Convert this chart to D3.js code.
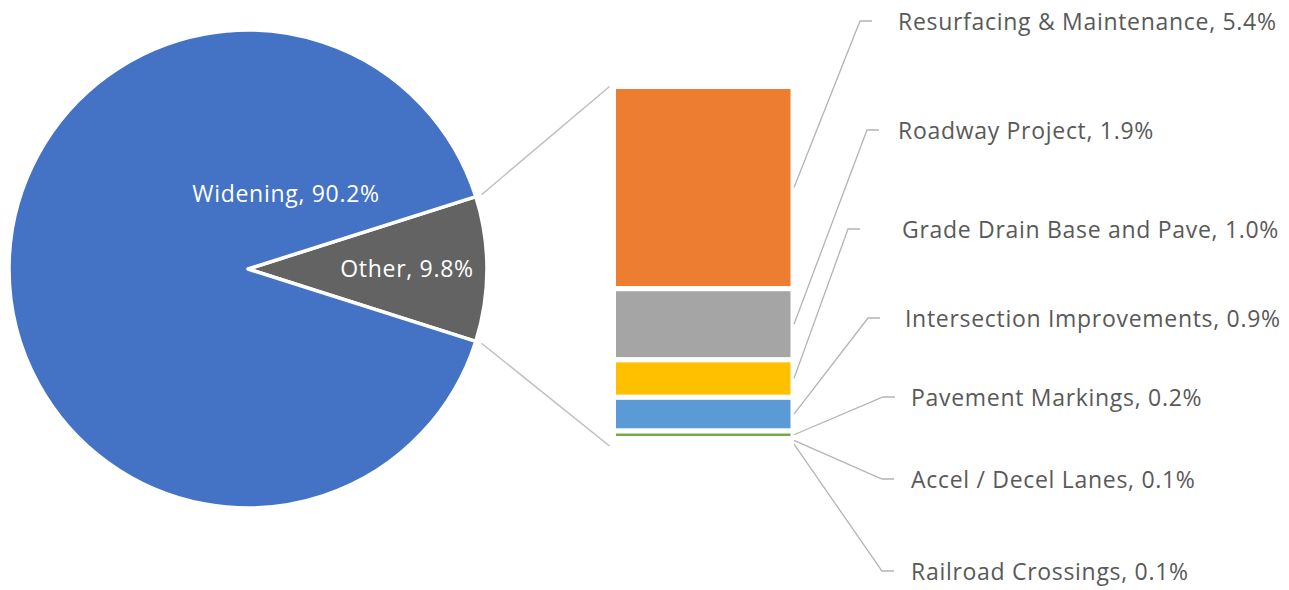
<!DOCTYPE html>
<html>
<head>
<meta charset="utf-8">
<script src="https://cdn.jsdelivr.net/npm/d3@7"></script>
<style>
  body { margin: 0; background: #fff; }
  text { font-family: "Open Sans", "Noto Sans", sans-serif; letter-spacing: 0.7px; }
</style>
</head>
<body>
<svg id="chart" width="1289" height="590"></svg>
<script>
// pie data
var pieNames = ["Other", "Widening"];
var pieValues = [9.8, 90.2];
var pieColors = ["#636363", "#4472C4"];

// breakdown of "Other"
var barNames = ["Resurfacing & Maintenance", "Roadway Project", "Grade Drain Base and Pave",
  "Intersection Improvements", "Pavement Markings", "Accel / Decel Lanes", "Railroad Crossings"];
var barValues = [5.4, 1.9, 1.0, 0.9, 0.2, 0.1, 0.1];
var barColors = ["#ED7D31", "#A5A5A5", "#FFC000", "#5B9BD5", "#70AD47", "#264478", "#9E480E"];

var fmt = function (v) { return v.toFixed(1) + "%"; };

var svg = d3.select("#chart");
var cx = 248, cy = 269, r = 239;

// label layout (elbow point and text start for each bar label)
var labelLayout = [
  {ex: 860, ey: 21, tx: 898},
  {ex: 867, ey: 130, tx: 898},
  {ex: 848, ey: 229, tx: 902},
  {ex: 868, ey: 318, tx: 905},
  {ex: 883, ey: 397, tx: 911},
  {ex: 882, ey: 479, tx: 911},
  {ex: 882, ey: 571, tx: 911}
];

// ---- pie ----
var half = pieValues[0] / 100 * Math.PI;
var pie = d3.pie().sort(null)
  .startAngle(Math.PI / 2 - half)
  .endAngle(Math.PI / 2 - half + 2 * Math.PI);
var arcs = pie(pieValues);
var arc = d3.arc().innerRadius(0).outerRadius(r);

var g = svg.append("g").attr("transform", "translate(" + cx + "," + cy + ")");
g.selectAll("path").data(arcs).enter().append("path")
  .attr("d", arc)
  .attr("fill", function (d, i) { return pieColors[i]; })
  .attr("stroke", "#fff")
  .attr("stroke-width", 3.5)
  .attr("stroke-linejoin", "round");

// pie labels
var pieLabelPos = [[159, 0], [38, -75]];
g.selectAll("text.pl").data(arcs).enter().append("text")
  .attr("class", "pl")
  .attr("x", function (d, i) { return pieLabelPos[i][0]; })
  .attr("y", function (d, i) { return pieLabelPos[i][1]; })
  .attr("dy", "0.35em")
  .attr("text-anchor", "middle")
  .attr("fill", "#fff")
  .style("font-size", "23px")
  .text(function (d, i) { return pieNames[i] + ", " + fmt(pieValues[i]); });

// ---- bar of pie ----
var barX = 613.5, barW = 179.5;
var total = d3.sum(barValues);
var y = d3.scaleLinear().domain([0, total]).range([86.5, 446]);
var cum = [0];
barValues.forEach(function (v, i) { cum.push(cum[i] + v); });

var bars = svg.append("g");
bars.selectAll("rect").data(barValues).enter().append("rect")
  .attr("x", barX)
  .attr("y", function (d, i) { return y(cum[i]); })
  .attr("width", barW)
  .attr("height", function (d, i) { return y(cum[i + 1]) - y(cum[i]); })
  .attr("fill", function (d, i) { return barColors[i]; })
  .attr("stroke", "#fff")
  .attr("stroke-width", 5);

// connector lines from pie to bar
var a0 = arcs[0].startAngle, a1 = arcs[0].endAngle, rc = r + 6;
var conn = [
  [cx + rc * Math.sin(a0), cy - rc * Math.cos(a0), barX - 4, y(0)],
  [cx + rc * Math.sin(a1), cy - rc * Math.cos(a1), barX - 4, y(total)]
];
svg.selectAll("line.conn").data(conn).enter().append("line")
  .attr("class", "conn")
  .attr("x1", function (d) { return d[0]; })
  .attr("y1", function (d) { return d[1]; })
  .attr("x2", function (d) { return d[2]; })
  .attr("y2", function (d) { return d[3]; })
  .attr("stroke", "#bfbfbf")
  .attr("stroke-width", 1.5);

// leader lines and labels
var leaders = svg.append("g");
barValues.forEach(function (v, i) {
  var L = labelLayout[i];
  var sx = barX + barW + 1, sy = (y(cum[i]) + y(cum[i + 1])) / 2;
  leaders.append("path")
    .attr("d", d3.line()([[sx, sy], [L.ex, L.ey], [L.ex + 12, L.ey]]))
    .attr("fill", "none")
    .attr("stroke", "#b4b4b4")
    .attr("stroke-width", 1.3);
  leaders.append("text")
    .attr("x", L.tx)
    .attr("y", L.ey + 1)
    .attr("dy", "0.35em")
    .attr("fill", "#595959")
    .style("font-size", "23px")
    .text(barNames[i] + ", " + fmt(v));
});
</script>
</body>
</html>
